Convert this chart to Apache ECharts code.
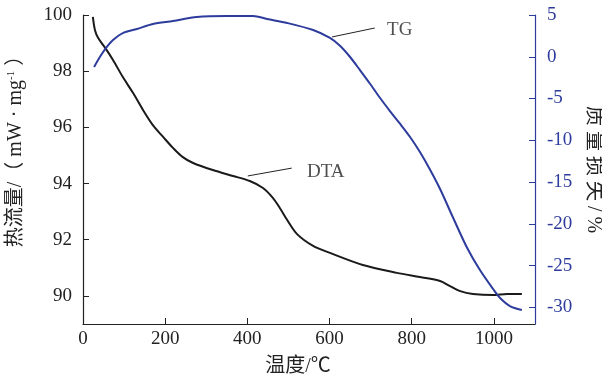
<!DOCTYPE html>
<html><head><meta charset="utf-8">
<script src="https://cdn.jsdelivr.net/npm/echarts@6/dist/echarts.min.js"></script>
<style>html,body{margin:0;padding:0;background:#fff}#c{width:602px;height:380px}</style>
</head><body><div id="c"></div>
<script>
// DTA (heat flow, left axis)
const dtaT = [24,29,37,54,73,97,122,146,170,195,219,243,268,316,365,406,438,462,479,497,521,560,601,681,764,820,869,893,918,949,998,1032,1068];
const dtaV = [99.93,99.47,99.18,98.83,98.40,97.79,97.22,96.62,96.08,95.66,95.27,94.94,94.73,94.48,94.27,94.09,93.84,93.49,93.13,92.70,92.20,91.78,91.53,91.10,90.82,90.67,90.53,90.35,90.17,90.07,90.03,90.07,90.07];
// TG (mass loss, right axis)
const tgT = [27,41,58,73,97,131,170,219,277,350,414,448,497,560,601,626,650,674,699,723,747,772,796,820,845,869,901,935,966,998,1015,1039,1068];
const tgV = [-1.23,-0.03,1.17,2.01,2.84,3.32,3.92,4.28,4.76,4.88,4.88,4.52,4.04,3.20,2.25,1.29,-0.03,-1.59,-3.26,-4.94,-6.50,-8.05,-9.61,-11.41,-13.56,-15.84,-19.31,-22.90,-25.54,-27.81,-28.89,-29.85,-30.33];
const xTicks = [0,200,400,600,800,1000];
const leftTicks = [90,92,94,96,98,100];
const rightTicks = [-30,-25,-20,-15,-10,-5,0,5];
// annotation leader lines and labels
const tgLeader = [[606,2.37],[710,3.44]];
const tgLabel = [740,3.2,'TG'];
const dtaLeader = [[401,94.27],[508,94.55]];
const dtaLabel = [545,94.41,'DTA'];

const BLUE = '#2d3c9c';
const serif = '"Liberation Serif","Times New Roman",serif';
const cjk = '"Liberation Serif","Noto Sans CJK SC",serif';

const chart = echarts.init(document.getElementById('c'), null, {renderer:'canvas'});
chart.setOption({
  animation:false,
  grid:{left:83,right:67,top:15,bottom:56,containLabel:false,outerBoundsMode:'none'},
  xAxis:{type:'value',min:0,max:1100,interval:200,
    name:'温度/℃',nameLocation:'middle',nameGap:33,
    nameTextStyle:{fontFamily:cjk,fontSize:20,color:'#222',padding:[0,22,0,0]},
    axisLine:{onZero:false,lineStyle:{color:'#222',width:1.2}},
    axisTick:{inside:true,length:6,customValues:xTicks,lineStyle:{color:'#222'}},
    axisLabel:{fontFamily:serif,fontSize:19,color:'#222',margin:6,customValues:xTicks,formatter:v=>String(v)},
    splitLine:{show:false}},
  yAxis:[
    {type:'value',min:89,max:100,position:'left',
     name:'热流量/（ mW · mg{sup|-1} ）',nameLocation:'middle',nameGap:57,
     nameTextStyle:{fontFamily:cjk,fontSize:20,color:'#222',padding:[0,0,0,46],rich:{sup:{fontSize:11,verticalAlign:'top',padding:[0,0,9,0],fontFamily:serif,color:'#222'}}},
     axisLine:{show:true,lineStyle:{color:'#222',width:1.2}},
     axisTick:{show:true,inside:true,length:6,customValues:leftTicks,lineStyle:{color:'#222'}},
     axisLabel:{fontFamily:serif,fontSize:19,color:'#222',margin:11,customValues:leftTicks},
     splitLine:{show:false}},
    {type:'value',min:-32,max:5,position:'right',
     name:'质\u2005量\u2005损\u2005失\u2005/\u2005%',nameLocation:'middle',nameGap:46,nameRotate:-90,
     nameTextStyle:{fontFamily:cjk,fontSize:20,color:'#222'},
     axisLine:{show:true,lineStyle:{color:BLUE,width:1.2}},
     axisTick:{show:true,inside:true,length:6,customValues:rightTicks,lineStyle:{color:BLUE}},
     axisLabel:{fontFamily:serif,fontSize:19,color:BLUE,margin:12,customValues:rightTicks},
     splitLine:{show:false}}
  ],
  series:[
    {type:'line',yAxisIndex:0,data:dtaT.map((t,i)=>[t,dtaV[i]]),showSymbol:false,smooth:0.3,
     lineStyle:{color:'#1a1a1a',width:2},
     markLine:{silent:true,symbol:'none',label:{show:false},lineStyle:{color:'#222',width:1,type:'solid'},
       data:[[{coord:dtaLeader[0]},{coord:dtaLeader[1]}]]}},
    {type:'line',yAxisIndex:1,data:tgT.map((t,i)=>[t,tgV[i]]),showSymbol:false,smooth:0.3,
     lineStyle:{color:BLUE,width:2},
     markLine:{silent:true,symbol:'none',label:{show:false},lineStyle:{color:'#222',width:1,type:'solid'},
       data:[[{coord:tgLeader[0]},{coord:tgLeader[1]}]]}},
    {type:'scatter',yAxisIndex:0,symbolSize:0,silent:true,data:[dtaLabel],
     label:{show:true,position:'right',distance:0,formatter:p=>p.value[2],fontFamily:serif,fontSize:19,color:'#222'}},
    {type:'scatter',yAxisIndex:1,symbolSize:0,silent:true,data:[tgLabel],
     label:{show:true,position:'right',distance:0,formatter:p=>p.value[2],fontFamily:serif,fontSize:19,color:'#222'}}
  ]
});
</script></body></html>
